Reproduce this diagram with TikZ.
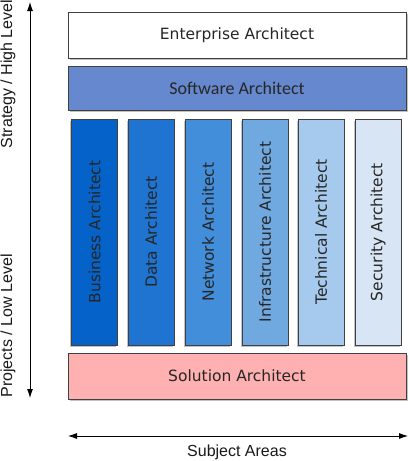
\documentclass[tikz,border=0pt]{standalone}
\usepackage{fontspec}
\setmainfont{DejaVu Sans}
\newfontfamily\calibrifont{Carlito}
\newfontfamily\arialfont{Liberation Sans}
\usetikzlibrary{shapes,arrows.meta,positioning,shadows}

\definecolor{softblue}{RGB}{102,136,206}
\definecolor{busblue}{RGB}{4,98,200}
\definecolor{datablue}{RGB}{30,116,208}
\definecolor{netblue}{RGB}{66,142,218}
\definecolor{infblue}{RGB}{112,168,224}
\definecolor{techblue}{RGB}{166,202,237}
\definecolor{secblue}{RGB}{216,229,245}
\definecolor{solpink}{RGB}{255,176,176}
\definecolor{boxline}{RGB}{64,64,64}

\begin{document}
\begin{tikzpicture}[
    x=1pt, y=-1pt,
    % Node styles
    role/.style={draw=boxline, line width=0.8pt, rectangle, inner sep=0pt,
                 text=black!85, font=\fontsize{15.5}{18}\selectfont},
    wide/.style={role, minimum width=338pt, minimum height=46pt,
                 drop shadow={shadow xshift=1.5pt, shadow yshift=-1.5pt, fill=black!40, opacity=0.6}},
    % rotated box: width/height are taken along the text
    column/.style={role, minimum width=226pt, minimum height=46pt, rotate=90,
                   drop shadow={shadow xshift=-1.5pt, shadow yshift=-1.5pt, fill=black!40, opacity=0.6}},
    axislabel/.style={font=\arialfont\fontsize{16}{19}\selectfont, text=black!90},
    axis/.style={{Latex[length=9pt,width=6pt]}-{Latex[length=9pt,width=6pt]}, line width=0.8pt},
]
\useasboundingbox (0,0) rectangle (409,461);

% ============================================================
% Top rows
% ============================================================
\node[wide, fill=white] (enterprise) at (237,35) {Enterprise Architect};
\node[wide, fill=softblue, minimum height=44pt,
      font=\calibrifont\fontsize{18}{21}\selectfont] (software) at (237,88.5) {Software Architect};

% ============================================================
% Specialist columns
% ============================================================
\node[column, fill=busblue] (business) at (94.5,232) {Business Architect};
\node[column, fill=datablue] (data) at (151,232) {Data Architect};
\node[column, fill=netblue] (network) at (208,232) {Network Architect};
\node[column, fill=infblue] (infra) at (265,232) {Infrastructure Architect};
\node[column, fill=techblue] (technical) at (321,232) {Technical Architect};
\node[column, fill=secblue] (security) at (378,232) {Security Architect};

% ============================================================
% Bottom row
% ============================================================
\node[wide, fill=solpink] (solution) at (237,376) {Solution Architect};

% ============================================================
% Axes
% ============================================================
\coordinate (hightop) at (30,2);
\coordinate (lowbottom) at (30,398);
\coordinate (areasleft) at (68,436);
\coordinate (areasright) at (408,436);

\draw[axis] (hightop) -- (lowbottom);
\draw[axis] (areasleft) -- (areasright);

\node[axislabel, rotate=90] (strategy) at (8,74) {Strategy / High Level};
\node[axislabel, rotate=90] (projects) at (8,326) {Projects / Low Level};
\node[axislabel] (subject) at (237,452) {Subject Areas};

\end{tikzpicture}
\end{document}
